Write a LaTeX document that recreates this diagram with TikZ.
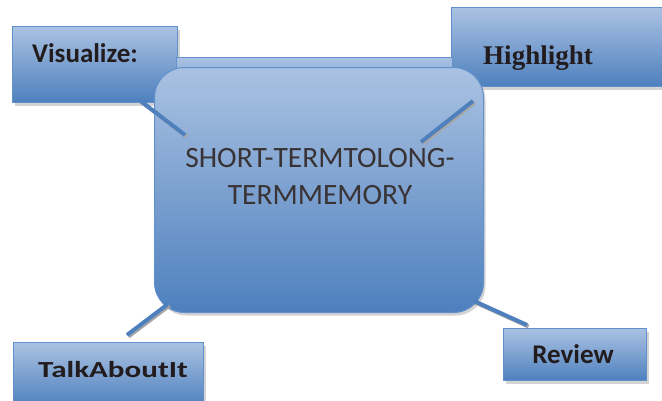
\documentclass[tikz,border=0pt]{standalone}
\usepackage{fontspec}
\setmainfont{Carlito}
\newfontfamily\headserif{Liberation Serif}
\newfontfamily\widesans[FakeStretch=1.35]{Carlito}
\usetikzlibrary{calc}
\usetikzlibrary{shadows}

\definecolor{paletop}{RGB}{170,194,226}
\definecolor{deepblue}{RGB}{78,128,190}
\definecolor{edgeblue}{RGB}{98,144,204}
\definecolor{inkdark}{RGB}{35,28,30}

\begin{document}
\begin{tikzpicture}[x=1pt, y=-1pt,
        panel/.style={draw=edgeblue, line width=1pt, top color=paletop, bottom color=deepblue, inner sep=0pt, anchor=north west},
        box/.style={panel, drop shadow={shadow xshift=2pt, shadow yshift=-3pt, opacity=0.35}},
        memory/.style={box, rounded corners=30pt},
        boxtext/.style={font=\fontsize{27}{32}\selectfont\bfseries, text=inkdark, anchor=base, inner sep=0pt},
        link/.style={line width=4pt, draw=deepblue, preaction={draw=black!35, line width=4pt, transform canvas={shift={(1.5pt,-1.5pt)}}}}]
        \useasboundingbox (0,0) rectangle (662,400);

        % The four boxes round the middle
        \node[box, minimum width=165pt, minimum height=76pt] (vis) at (12,26) {};
        \node[box, minimum width=214pt, minimum height=79pt] (hl) at (451,7) {};
        \node[box, minimum width=190pt, minimum height=64pt] (talk) at (13,342) {};
        \node[box, minimum width=143pt, minimum height=52pt] (rev) at (503,328) {};

        \node[boxtext] (vis-text) at (85,62) {Visualize:};
        \node[boxtext, font=\fontsize{27}{32}\selectfont\headserif\bfseries] (hl-text) at (538,64) {Highlight};
        \node[boxtext, font=\fontsize{23}{28}\selectfont\widesans\bfseries] (talk-text) at (113,377) {TalkAboutIt};
        \node[boxtext] (rev-text) at (573,363) {Review};

        % Middle shape, with a flat panel behind its top edge
        \node[panel, minimum width=276pt, minimum height=60pt] (back) at (176,57) {};
        \node[memory, minimum width=329pt, minimum height=245pt] (mem) at (154,67) {};
        \node[font=\fontsize{29.5}{37}\selectfont, text=inkdark!90, align=center] (mem-text) at (320,177)
            {SHORT-TERMTOLONG-\\TERMMEMORY};

        % Connectors
        \draw[link] ($(vis.south east)+(-40,-4)$) -- ($(mem.north west)+(31,68)$);
        \draw[link] ($(hl.south west)+(22,14)$) -- ($(mem.north east)+(-63,75)$);
        \draw[link] ($(mem.south west)+(14,-9)$) -- ($(talk.north west)+(114,-7)$);
        \draw[link] ($(mem.south east)+(-10,-12)$) -- ($(rev.north west)+(24,-3)$);
\end{tikzpicture}
\end{document}
